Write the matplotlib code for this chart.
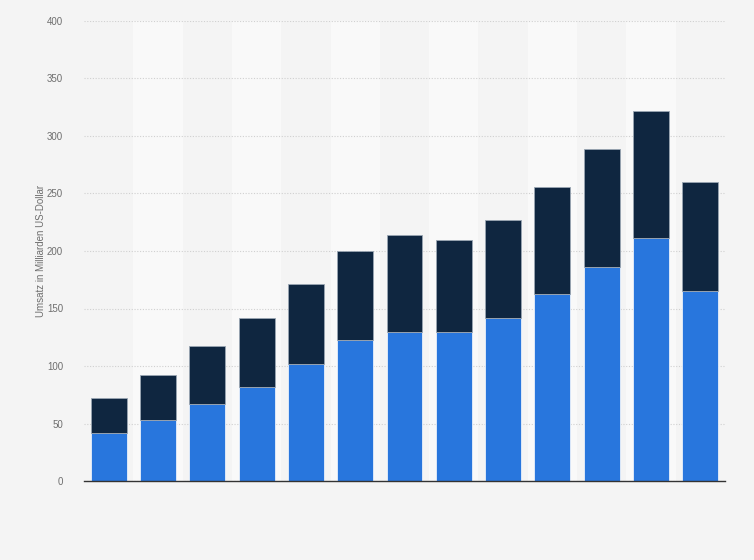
import matplotlib.pyplot as plt

# values (Milliarden US-Dollar)
positions = list(range(13))
lower_vals = [41.5, 52.8, 67.0, 81.8, 101.5, 122.7, 129.7, 129.7, 141.9, 162.2, 186.5, 211.5, 165.6]
upper_vals = [30.4, 39.7, 50.8, 60.3, 69.4, 77.2, 83.8, 79.8, 85.0, 93.4, 102.2, 110.2, 94.4]
y_ticks = [0, 50, 100, 150, 200, 250, 300, 350, 400]

plt.rcParams['font.family'] = ['Liberation Sans', 'DejaVu Sans']

fig = plt.figure(figsize=(7.54, 5.6), dpi=100)
fig.patch.set_facecolor('#f4f4f4')
ax = fig.add_axes([84 / 754, 79 / 560, 641 / 754, 460 / 560])
ax.set_facecolor('#f4f4f4')

# alternating column bands
for p in positions:
    if p % 2 == 1:
        ax.axvspan(p - 0.5, p + 0.5, color='#f9f9f9', zorder=0, lw=0)

ax.set_yticks(y_ticks)
ax.yaxis.grid(True, linestyle=(0, (1, 1.5)), color='#d0d0d0', linewidth=0.8, zorder=1)

ax.bar(positions, lower_vals, width=0.73, color='#2876dd',
       edgecolor='#e8f0fb', linewidth=0.6, zorder=3)
ax.bar(positions, upper_vals, width=0.73, bottom=lower_vals, color='#0f2640',
       edgecolor='#9aa6b3', linewidth=0.6, zorder=3)

ax.set_xlim(-0.5, 12.5)
ax.set_ylim(0, 400)
ax.set_xticks([])
for side in ['top', 'right', 'left']:
    ax.spines[side].set_visible(False)
ax.spines['bottom'].set_color('#333333')
ax.spines['bottom'].set_linewidth(1.0)
ax.spines['bottom'].set_zorder(4)

ax.tick_params(axis='y', length=0, pad=15, labelsize=7, labelcolor='#6e6e6e')
ax.set_ylabel('Umsatz in Milliarden US-Dollar', fontsize=7, color='#6e6e6e', labelpad=1)

fig.savefig('out.png', dpi=100, facecolor=fig.get_facecolor())
